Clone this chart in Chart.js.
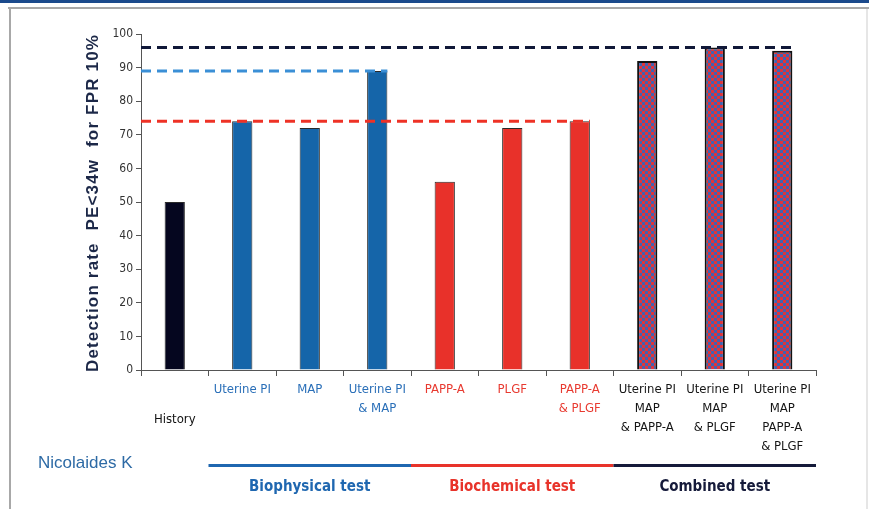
<!DOCTYPE html>
<html><head><meta charset="utf-8">
<script src="https://cdn.jsdelivr.net/npm/chart.js@4.4.1/dist/chart.umd.min.js"></script>
<style>html,body{margin:0;padding:0;background:#fff;}#wrap{width:869px;height:509px;}</style>
</head><body><div id="wrap"><canvas id="c" width="869" height="509"></canvas></div>
<script>
const categories = [
  ['History'], ['Uterine PI'], ['MAP'], ['Uterine PI','& MAP'],
  ['PAPP-A'], ['PLGF'], ['PAPP-A','& PLGF'],
  ['Uterine PI','MAP','& PAPP-A'], ['Uterine PI','MAP','& PLGF'], ['Uterine PI','MAP','PAPP-A','& PLGF']
];
const detectionRates = [50, 74, 72, 89, 56, 72, 74, 92, 96, 95];
const categoryGroup = ['history','bio','bio','bio','chem','chem','chem','comb','comb','comb'];
const yTicks = [0,10,20,30,40,50,60,70,80,90,100];
// reference dashed lines and the bar index where each one stops
const refValues = [96, 89, 74];
const refEndIndex = [9, 3, 6];
const refColors = ['#101838', '#3b8fd6', '#ee3226'];
const groupNames = ['Biophysical test', 'Biochemical test', 'Combined test'];
const groupStart = [1, 4, 7];
const groupEnd = [3, 6, 9];
const groupColors = ['#1f67b0', '#e8332a', '#151a3a'];
const yTitle = 'Detection rate  PE<34w  for FPR 10%';
const author = 'Nicolaides K';

const NARROW = '"Liberation Sans Narrow", "DejaVu Sans Condensed", "Arial Narrow", sans-serif';
const colMap = {history:'#05061f', bio:'#1565a9', chem:'#e8312a'};
const labelCol = {history:'#111', bio:'#2a6fb8', chem:'#e83a30', comb:'#151515'};

function makePattern(){
  const p = document.createElement('canvas'); p.width = 6; p.height = 6;
  const g = p.getContext('2d');
  g.fillStyle = '#e0343a'; g.fillRect(0,0,6,6);
  g.fillStyle = '#4262b0'; g.fillRect(0,0,3,3); g.fillRect(3,3,3,3);
  return g.createPattern(p,'repeat');
}

const ctx0 = document.getElementById('c').getContext('2d');
const pattern = makePattern();

const decor = {
  id:'decor',
  beforeDraw(chart){
    const c = chart.ctx;
    c.save();
    c.fillStyle = '#fff'; c.fillRect(0,0,869,509);
    c.fillStyle = '#1b4a8c'; c.fillRect(0,0,869,3);
    c.fillStyle = '#a8a8a8'; c.fillRect(8,7,861,2);
    c.fillRect(9,7,2,502);
    c.fillStyle = '#e6e6e6'; c.fillRect(866,9,2,500);
    c.restore();
  },
  afterDatasetsDraw(chart){
    const c = chart.ctx, x = chart.scales.x, y = chart.scales.y;
    const area = chart.chartArea;
    const meta = chart.getDatasetMeta(0);
    c.save();
    c.lineWidth = 3; c.setLineDash([10,6]);
    refValues.forEach((v,i)=>{
      const yy = y.getPixelForValue(v);
      const bar = meta.data[refEndIndex[i]];
      const xe = bar.x + bar.width/2;
      c.strokeStyle = refColors[i];
      c.beginPath(); c.moveTo(area.left, yy); c.lineTo(xe, yy); c.stroke();
    });
    c.setLineDash([]);
    // y title
    c.translate(93, 203); c.rotate(-Math.PI/2);
    c.font = 'bold 17px "Liberation Sans", Arial, sans-serif';
    const w = c.measureText(yTitle).width;
    const target = 338;
    c.letterSpacing = Math.max(0, (target - w) / yTitle.length).toFixed(2) + 'px';
    c.fillStyle = '#1c2848'; c.textAlign = 'center'; c.textBaseline = 'middle';
    c.fillText(yTitle, 0, 0);
    c.restore();
    c.save();
    c.textAlign = 'center'; c.textBaseline = 'middle';
    chart.data.labels.forEach((lab,i)=>{
      const xx = x.getPixelForValue(i);
      const grp = categoryGroup[i];
      c.fillStyle = labelCol[grp];
      c.font = '13px ' + NARROW;
      const y0 = grp === 'history' ? 420 : 390;
      lab.forEach((line,j)=>{ c.fillText(line, xx, y0 + j*19); });
    });
    c.textAlign = 'left';
    c.font = '17px "Liberation Sans", Arial, sans-serif';
    c.fillStyle = '#2d6aa5';
    c.fillText(author, 38, 463);
    groupNames.forEach((n,i)=>{
      const cw = x.getPixelForValue(1) - x.getPixelForValue(0);
      const xs = x.getPixelForValue(groupStart[i]) - cw/2;
      const xe = x.getPixelForValue(groupEnd[i]) + cw/2;
      c.fillStyle = groupColors[i];
      c.fillRect(xs, 464, xe - xs, 3);
      c.font = 'bold 15px ' + NARROW;
      c.textAlign = 'center';
      c.fillText(n, (xs+xe)/2, 487);
    });
    c.restore();
  }
};

new Chart(ctx0, {
  type:'bar',
  data:{
    labels: categories,
    datasets:[{
      data: detectionRates,
      backgroundColor: categoryGroup.map(g => g==='comb' ? pattern : colMap[g]),
      borderColor: categoryGroup.map(g => g==='comb' ? '#111' : '#2a2a2a'),
      borderWidth: categoryGroup.map(g => g==='comb' ? 2 : 1),
      borderSkipped: 'bottom',
      barPercentage: 0.3,
      categoryPercentage: 1.0
    }]
  },
  options:{
    responsive:false, animation:false, devicePixelRatio:1,
    layout:{padding:{top:34, right:53, left:0, bottom:0}},
    plugins:{legend:{display:false}, tooltip:{enabled:false}},
    scales:{
      x:{
        ticks:{display:false},
        grid:{drawOnChartArea:false, drawTicks:true, tickLength:6, color:'#555', offset:true},
        border:{color:'#555', width:1},
        afterFit(s){ s.height = 139; }
      },
      y:{
        min:0, max:100,
        afterBuildTicks(s){ s.ticks = yTicks.map(v=>({value:v})); },
        ticks:{color:'#333', font:{family:NARROW, size:12}, padding:3},
        grid:{drawOnChartArea:false, drawTicks:true, tickLength:5, color:'#555'},
        border:{color:'#555', width:1},
        afterFit(s){ s.width = 141; }
      }
    }
  },
  plugins:[decor]
});
</script></body></html>
